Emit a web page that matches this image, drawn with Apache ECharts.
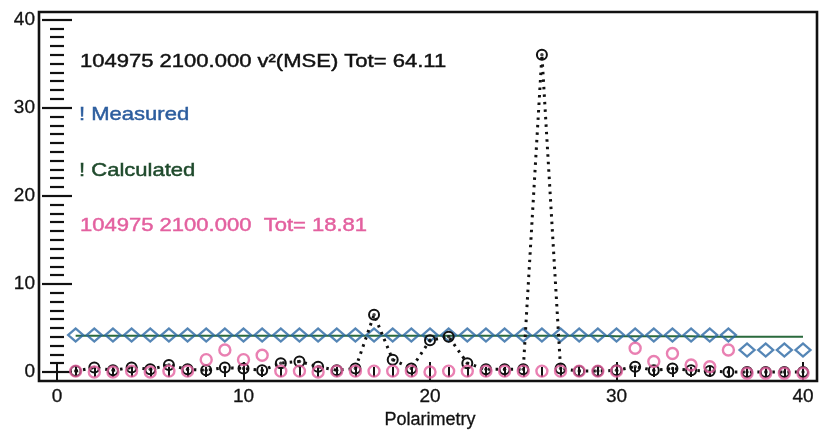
<!DOCTYPE html>
<html>
<head>
<meta charset="utf-8">
<script src="https://cdn.jsdelivr.net/npm/echarts@6/dist/echarts.min.js"></script>
<style>
  html, body { margin: 0; padding: 0; background: #ffffff; }
  #chart { width: 821px; height: 435px; }
</style>
</head>
<body>
<div id="chart"></div>
<script>
// Polarimetry channel numbers
const channels = [1, 2, 3, 4, 5, 6, 7, 8, 9, 10, 11, 12, 13, 14, 15, 16, 17, 18, 19, 20,
                  21, 22, 23, 24, 25, 26, 27, 28, 29, 30, 31, 32, 33, 34, 35, 36, 37, 38, 39, 40];

// Measured values (blue diamonds)
const measured = [4.2, 4.2, 4.2, 4.2, 4.2, 4.2, 4.2, 4.2, 4.2, 4.2, 4.2, 4.2, 4.2, 4.2, 4.2, 4.2, 4.2, 4.2, 4.2, 4.2,
                  4.2, 4.2, 4.2, 4.2, 4.2, 4.2, 4.2, 4.2, 4.2, 4.2, 4.2, 4.2, 4.2, 4.2, 4.2, 4.2, 2.5, 2.5, 2.5, 2.5];

// Calculated values (green line)
const calculated = [4.1, 4.1, 4.1, 4.1, 4.1, 4.1, 4.1, 4.1, 4.1, 4.1, 4.1, 4.1, 4.1, 4.1, 4.1, 4.1, 4.1, 4.1, 4.1, 4.1,
                    4.1, 4.1, 4.1, 4.1, 4.1, 4.1, 4.1, 4.1, 4.1, 4.05, 4.05, 4.05, 4.05, 4.05, 4.0, 4.0, 4.0, 4.0, 4.0, 4.0];

// Per-channel v²(MSE) contributions, run 1 (black, Tot= 64.11)
const mseRun1 = [0.1, 0.5, 0.2, 0.5, 0.3, 0.8, 0.3, 0.2, 0.5, 0.4, 0.2, 1.0, 1.2, 0.6, 0.2, 0.4, 6.5, 1.4, 0.4, 3.6,
                 4.0, 1.0, 0.3, 0.3, 0.3, 36.0, 0.4, 0.1, 0.1, 0.2, 0.6, 0.2, 0.4, 0.2, 0.1, 0.0, 0.0, 0.0, 0.0, 0.0];

// Per-channel contributions, run 2 (pink, Tot= 18.81)
const mseRun2 = [0.1, 0.0, 0.0, 0.1, 0.0, 0.1, 0.1, 1.4, 2.5, 1.4, 1.9, 0.1, 0.1, 0.0, 0.1, 0.1, 0.1, 0.1, 0.1, 0.0,
                 0.1, 0.1, 0.1, 0.1, 0.1, 0.1, 0.1, 0.1, 0.1, 0.1, 2.7, 1.2, 2.1, 0.8, 0.6, 2.5, -0.15, -0.15, -0.15, -0.15];

// Axis ticks
const xTicks = [0, 10, 20, 30, 40];
const yTicks = [0, 10, 20, 30, 40];

const pairs = (vals) => channels.map((c, i) => [c, vals[i]]);

const FONT = 'Liberation Sans, Arial, Helvetica, sans-serif';
const INK = '#111111';
const PINK = '#e3609f';

const chart = echarts.init(document.getElementById('chart'), null, { renderer: 'canvas' });

const tickAxisCommon = {
  type: 'value',
  gridIndex: 0,
  interval: 10,
  splitLine: { show: false },
  axisLine: { show: false }
};

const labelStyle = { fontFamily: FONT, fontSize: 19, color: INK, textBorderColor: INK, textBorderWidth: 0.3 };

// Annotation text block
function note(text, color, x, y) {
  return {
    type: 'text', x: x, y: y, scaleX: 1.19,
    style: { text: text, fill: color, stroke: color, lineWidth: 0.45,
             font: '18.5px ' + FONT, textAlign: 'left', textVerticalAlign: 'middle' }
  };
}

const option = {
  backgroundColor: '#ffffff',
  animation: false,
  grid: [
    // plotting area: 0..40 on both axes
    { left: 57, right: 18, top: 19.5, bottom: 63, containLabel: false },
    // outer frame box
    { left: 39, right: 4, top: 12, bottom: 54, show: true, borderColor: INK, borderWidth: 2.6,
      backgroundColor: 'transparent' }
  ],
  xAxis: [
    Object.assign({}, tickAxisCommon, {
      position: 'bottom', offset: 9,
      min: xTicks[0], max: xTicks[xTicks.length - 1],
      name: 'Polarimetry', nameLocation: 'middle', nameGap: 30,
      nameTextStyle: Object.assign({}, labelStyle, { fontSize: 18 }),
      axisTick: { show: true, inside: true, length: 10, lineStyle: { color: INK, width: 2 } },
      minorTick: { show: true, splitNumber: 10, length: 5, lineStyle: { color: INK, width: 2 } },
      axisLabel: Object.assign({ show: true, margin: 6 }, labelStyle)
    }),
    Object.assign({}, tickAxisCommon, {
      position: 'top', offset: 7.5,
      min: xTicks[0], max: xTicks[xTicks.length - 1],
      axisTick: { show: true, inside: true, length: 9, lineStyle: { color: INK, width: 2 } },
      minorTick: { show: true, splitNumber: 10, length: 5, lineStyle: { color: INK, width: 2 } },
      axisLabel: { show: false }
    }),
    { type: 'value', gridIndex: 1, show: false, min: 0, max: 1 }
  ],
  yAxis: [
    Object.assign({}, tickAxisCommon, {
      position: 'left', offset: 18,
      min: yTicks[0], max: yTicks[yTicks.length - 1],
      axisTick: { show: true, inside: true, length: 15, lineStyle: { color: INK, width: 2.2 } },
      minorTick: { show: true, splitNumber: 10, length: 7, lineStyle: { color: INK, width: 2.2 } },
      axisLabel: Object.assign({ show: true, margin: 4 }, labelStyle)
    }),
    Object.assign({}, tickAxisCommon, {
      position: 'right', offset: 14,
      min: yTicks[0], max: yTicks[yTicks.length - 1],
      axisTick: { show: true, inside: true, length: 15, lineStyle: { color: INK, width: 2.2 } },
      minorTick: { show: true, splitNumber: 10, length: 7, lineStyle: { color: INK, width: 2.2 } },
      axisLabel: { show: false }
    }),
    { type: 'value', gridIndex: 1, show: false, min: 0, max: 1 }
  ],
  series: [
    {
      name: 'Calculated',
      type: 'line',
      xAxisIndex: 0, yAxisIndex: 0,
      data: pairs(calculated),
      symbol: 'none',
      clip: false,
      lineStyle: { color: '#2a6a3c', width: 2 },
      z: 2
    },
    {
      name: 'Measured',
      type: 'scatter',
      xAxisIndex: 0, yAxisIndex: 0,
      data: pairs(measured),
      symbol: 'diamond',
      symbolSize: [15, 13],
      clip: false,
      itemStyle: { color: 'rgba(0,0,0,0)', borderColor: '#2b68a4', borderWidth: 2.3 },
      z: 3
    },
    {
      name: 'Run 1',
      type: 'line',
      xAxisIndex: 0, yAxisIndex: 0,
      data: pairs(mseRun1),
      symbol: 'circle',
      symbolSize: 10,
      showAllSymbol: true,
      clip: false,
      lineStyle: { color: INK, width: 3, type: [2.5, 5] },
      itemStyle: { color: 'rgba(0,0,0,0)', borderColor: INK, borderWidth: 2 },
      z: 4
    },
    {
      name: 'Run 1 centre',
      type: 'scatter',
      xAxisIndex: 0, yAxisIndex: 0,
      data: pairs(mseRun1),
      symbol: 'circle',
      symbolSize: 3.5,
      clip: false,
      itemStyle: { color: INK },
      z: 4
    },
    {
      name: 'Run 2',
      type: 'scatter',
      xAxisIndex: 0, yAxisIndex: 0,
      data: pairs(mseRun2),
      symbol: 'circle',
      symbolSize: 11,
      clip: false,
      itemStyle: { color: 'rgba(0,0,0,0)', borderColor: PINK, borderWidth: 2.4 },
      z: 5
    }
  ],
  graphic: [
    note('104975 2100.000 v\u00b2(MSE) Tot= 64.11', INK, 80, 62),
    note('! Measured', '#2c5d9e', 79, 115),
    note('! Calculated', '#1f4a2c', 79, 171),
    note('104975 2100.000  Tot= 18.81', PINK, 80, 226)
  ]
};

chart.setOption(option);
</script>
</body>
</html>
